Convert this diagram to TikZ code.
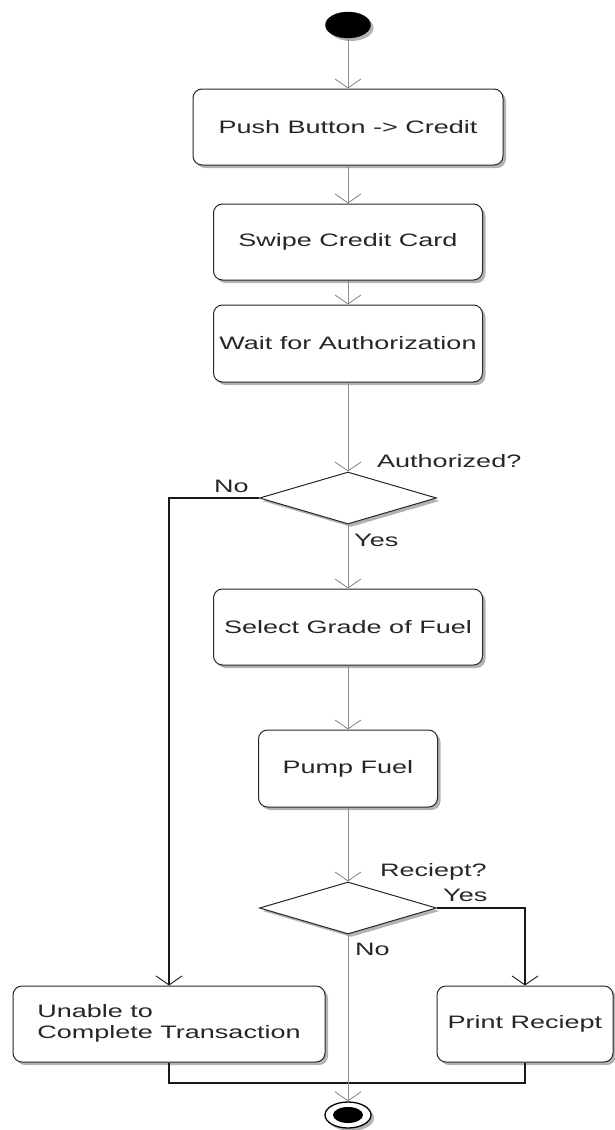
\documentclass[tikz,border=0pt]{standalone}
\usepackage{fontspec}
\setmainfont{Liberation Sans}
\usetikzlibrary{arrows.meta,shapes.geometric,shadows}
\newcommand\wtxt[1]{\scalebox{1.5}[1]{#1}}
\begin{document}
\begin{tikzpicture}[x=1pt,y=-1pt,
  every node/.style={font=\fontsize{18}{21}\selectfont, text=black!85},
  shad/.style={drop shadow={shadow xshift=3pt,shadow yshift=-3pt,fill=black!30,opacity=1}},
  act/.style={rectangle, draw=black!85, line width=1pt, rounded corners=9pt, fill=white, inner sep=0pt, shad},
  dec/.style={diamond, draw=black!85, line width=1pt, fill=white, inner sep=0pt, minimum width=177pt, minimum height=52pt, shad},
  initn/.style={ellipse, fill=black, draw=black, minimum width=45pt, minimum height=26pt, inner sep=0pt, shad},
  finout/.style={ellipse, fill=white, draw=black, line width=1.3pt, minimum width=46pt, minimum height=26pt, inner sep=0pt, shad},
  finin/.style={ellipse, fill=black, minimum width=30pt, minimum height=16pt, inner sep=0pt},
  lbl/.style={anchor=west, inner sep=0pt},
  flow/.style={draw=black!45, line width=0.9pt, -{Straight Barb[length=9pt,width=26pt,line width=0.9pt]}},
  strong/.style={draw=black!90, line width=1.4pt, -{Straight Barb[length=9pt,width=26pt,line width=0.9pt]}},
  joinln/.style={draw=black!90, line width=1.4pt}
]
\useasboundingbox (0,0) rectangle (614,1130);

\node[initn] (start) at (348,25) {};
\node[act, minimum width=310pt, minimum height=76pt] (b1) at (348,127) {\wtxt{Push Button -> Credit}};
\node[act, minimum width=269pt, minimum height=76pt] (b2) at (348,242) {\wtxt{Swipe Credit Card}};
\node[act, minimum width=269pt, minimum height=77pt] (b3) at (348,343.5) {\wtxt{Wait for Authorization}};
\node[dec] (d1) at (348,498) {};
\node[act, minimum width=269pt, minimum height=76pt] (b4) at (348,627) {\wtxt{Select Grade of Fuel}};
\node[act, minimum width=179pt, minimum height=77pt] (b5) at (348,768.5) {\wtxt{Pump Fuel}};
\node[dec] (d2) at (348,908) {};
\node[act, minimum width=312pt, minimum height=76pt] (un) at (169,1024) {\wtxt{\begin{tabular}{@{}l@{}}Unable to\\Complete Transaction\end{tabular}}};
\node[act, minimum width=176pt, minimum height=76pt] (pr) at (525,1024) {\wtxt{Print Reciept}};
\node[finout] (fin) at (348,1115) {};
\node[finin] (finc) at (348,1115) {};
\coordinate (jn) at (348,1083);

\node[lbl] (l1) at (377,461) {\wtxt{Authorized?}};
\node[lbl] (l2) at (214,486) {\wtxt{No}};
\node[lbl] (l3) at (354,540) {\wtxt{Yes}};
\node[lbl] (l4) at (380,872) {\wtxt{Reciept?}};
\node[lbl] (l5) at (443,895) {\wtxt{Yes}};
\node[lbl] (l6) at (355,949) {\wtxt{No}};

\draw[flow] (start.south) -- (b1.north);
\draw[flow] (b1.south) -- (b2.north);
\draw[flow] (b2.south) -- (b3.north);
\draw[flow] (b3.south) -- (d1.north);
\draw[flow] (d1.south) -- (b4.north);
\draw[flow] (b4.south) -- (b5.north);
\draw[flow] (b5.south) -- (d2.north);
\draw[joinln] (un.south) |- (jn) -| (pr.south);
\draw[flow] (d2.south) -- (fin.north);
\draw[strong] (d1.west) -| (un.north);
\draw[strong] (d2.east) -| (pr.north);
\end{tikzpicture}
\end{document}
